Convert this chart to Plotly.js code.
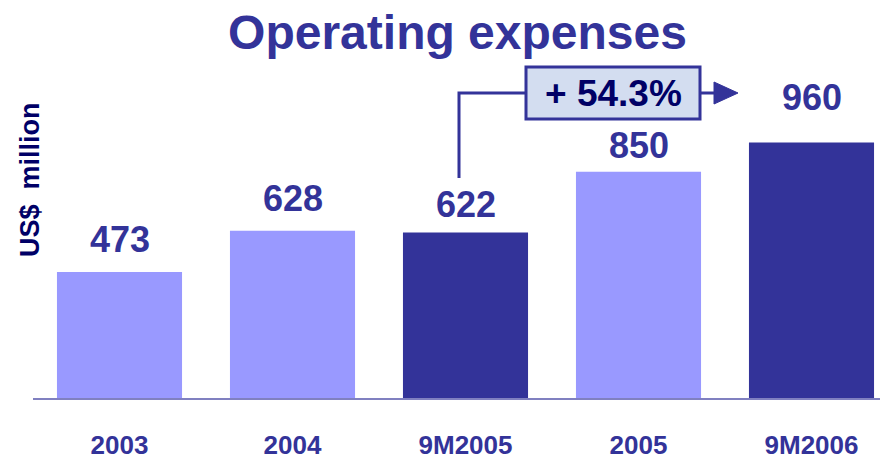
<!DOCTYPE html>
<html>
<head>
<meta charset="utf-8">
<script src="https://cdn.plot.ly/plotly-3.0.1.min.js"></script>
<style>html,body{margin:0;padding:0;background:#fff}#chart{width:880px;height:460px}</style>
</head>
<body>
<div id="chart"></div>
<script>
// ---- data ----
const categories = ['2003', '2004', '9M2005', '2005', '9M2006'];
const expenses = [473, 628, 622, 850, 960];
const growthLabel = '+ 54.3%';
const chartTitle = 'Operating expenses';
const yTitle = 'US$\u00a0\u00a0million';

// ---- styles ----
const FONT = 'Liberation Sans, Arial, sans-serif';
const DARK = '#333399';
const LIGHT = '#9999FF';
const NAVY = '#000066';
const labelLift = [10, 10, 5, 4, 23]; // px gap tweaks per value label

const W = 880, H = 460;
const M = {l: 33, r: 0, t: 60, b: 62};
const PW = W - M.l - M.r, PH = H - M.t - M.b;
const px = x => (x - M.l) / PW;          // pixel -> paper x
const py = y => (H - M.b - y) / PH;      // pixel -> paper y

const colors = categories.map(c => c.startsWith('9M') ? DARK : LIGHT);

const trace = {
  type: 'bar',
  x: categories.map((c, i) => i),
  y: expenses,
  marker: {color: colors, line: {width: 0}},
  width: 0.723,
  hoverinfo: 'skip'
};

const annotations = expenses.map((v, i) => ({
  x: i, y: v, xref: 'x', yref: 'y',
  text: String(v), showarrow: false,
  yanchor: 'bottom', xanchor: 'center', yshift: labelLift[i],
  font: {family: FONT, size: 36, color: DARK, weight: 700}
}));

annotations.push({
  xref: 'paper', yref: 'paper', x: px(613), y: py(94),
  text: growthLabel, showarrow: false, xanchor: 'center', yanchor: 'middle',
  font: {family: FONT, size: 37, color: NAVY, weight: 700}
});
annotations.push({
  xref: 'paper', yref: 'paper', x: 0, xshift: -3, y: py(180),
  text: yTitle, showarrow: false, textangle: -90, xanchor: 'center', yanchor: 'middle',
  font: {family: FONT, size: 27, color: NAVY, weight: 700}
});

const shapes = [
  {type: 'path', xref: 'paper', yref: 'paper',
   path: `M ${px(459)},${py(178)} L ${px(459)},${py(93)} L ${px(526)},${py(93)}`,
   line: {color: DARK, width: 3}},
  {type: 'line', xref: 'paper', yref: 'paper',
   x0: px(700), x1: px(716), y0: py(93), y1: py(93),
   line: {color: DARK, width: 3}},
  {type: 'path', xref: 'paper', yref: 'paper',
   path: `M ${px(714)},${py(82)} L ${px(738)},${py(93)} L ${px(714)},${py(104)} Z`,
   fillcolor: DARK, line: {color: DARK, width: 1}},
  {type: 'rect', xref: 'paper', yref: 'paper',
   x0: px(526), x1: px(700), y0: py(119), y1: py(67),
   fillcolor: '#D3DDF0', line: {color: DARK, width: 3}}
];

const layout = {
  width: W, height: H,
  margin: M,
  paper_bgcolor: '#ffffff', plot_bgcolor: '#ffffff',
  showlegend: false,
  title: {
    text: chartTitle, x: 457.5 / W, xanchor: 'center', xref: 'container',
    yref: 'container', y: 1 - 32 / H, yanchor: 'middle',
    font: {family: FONT, size: 48, color: DARK, weight: 700}
  },
  xaxis: {
    range: [-0.5, -0.5 + PW / 173],
    tickmode: 'array', tickvals: categories.map((c, i) => i), ticktext: categories,
    showgrid: false, zeroline: false, showline: true, linecolor: '#8080C0', linewidth: 2,
    ticks: '', ticklabelstandoff: 23,
    tickfont: {family: FONT, size: 26, color: DARK, weight: 700},
    fixedrange: true
  },
  yaxis: {
    range: [0, 1270], showgrid: false, zeroline: false, showline: false,
    showticklabels: false, ticks: '', fixedrange: true
  },
  annotations: annotations,
  shapes: shapes
};

Plotly.newPlot('chart', [trace], layout, {displayModeBar: false, staticPlot: true});
</script>
</body>
</html>
